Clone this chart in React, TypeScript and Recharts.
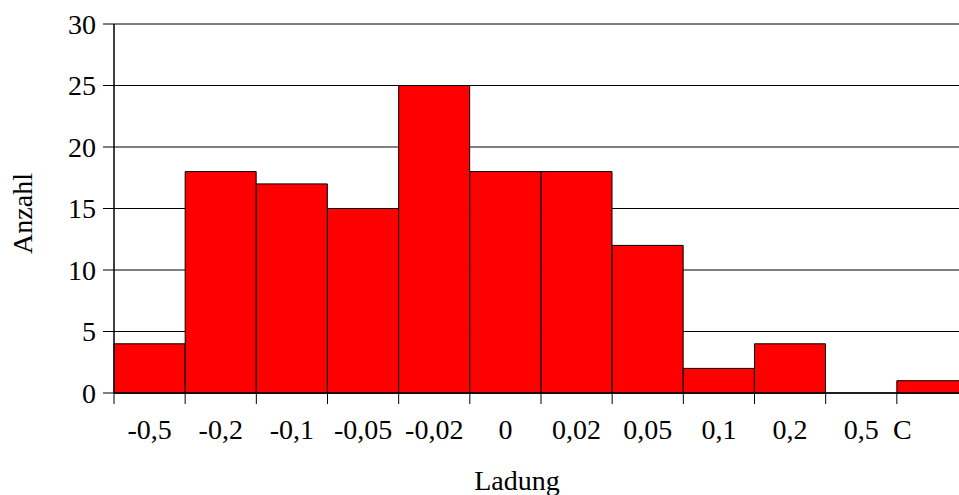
import React from 'react';
import { BarChart, Bar, XAxis, YAxis, CartesianGrid, Label } from 'recharts';

const categories = ['-0,5', '-0,2', '-0,1', '-0,05', '-0,02', '0', '0,02', '0,05', '0,1', '0,2', '0,5', 'C'];
const counts = [4, 18, 17, 15, 25, 18, 18, 12, 2, 4, 0, 1];
const yTicks = [0, 5, 10, 15, 20, 25, 30];

const data = categories.map((c, i) => ({ name: c, value: counts[i] }));

const W = 980;
const H = 495;
const M = { top: 24, right: 12, left: 34, bottom: 42 };
const Y_W = 80;
const X_H = 60;
const FONT = '"Liberation Serif", "Times New Roman", serif';
const FS = 28;
const step = (W - M.left - M.right - Y_W) / categories.length;

const XTick = (props: any) => {
  const { x, y, payload } = props;
  const bx = x - step / 2;
  const label = payload.value;
  const lx = label === 'C' ? x - 30 : x;
  return (
    <g>
      <line x1={bx} y1={y - 11} x2={bx} y2={y} stroke="#000" strokeWidth={1} />
      <text x={lx} y={y + 35} textAnchor="middle" fontSize={FS} fontFamily={FONT} fill="#000">
        {label}
      </text>
    </g>
  );
};

export default function App() {
  return (
    <div style={{ position: 'fixed', left: 0, top: 0, width: 959, height: 495, overflow: 'hidden', background: '#fff' }}>
      <BarChart width={W} height={H} data={data} margin={M} barCategoryGap={0} barGap={0}>
        <CartesianGrid vertical={false} stroke="#000" strokeWidth={1} />
        <XAxis
          dataKey="name"
          height={X_H}
          axisLine={{ stroke: '#000', strokeWidth: 1.5 }}
          tickLine={false}
          tickSize={11}
          tickMargin={0}
          interval={0}
          tick={<XTick />}
        >
          <Label
            content={(p: any) => {
              const vb = p.viewBox;
              return (
                <text x={vb.x + vb.width / 2 - 24} y={490} textAnchor="middle" fontSize={FS} fontFamily={FONT} fill="#000">
                  Ladung
                </text>
              );
            }}
          />
        </XAxis>
        <YAxis
          width={Y_W}
          domain={[0, 30]}
          ticks={yTicks}
          interval={0}
          axisLine={{ stroke: '#000', strokeWidth: 1.5 }}
          tickLine={{ stroke: '#000', strokeWidth: 1 }}
          tickSize={11}
          tickMargin={7}
          tick={{ fontSize: FS, fontFamily: FONT, fill: '#000' }}
        >
          <Label
            content={(p: any) => {
              const vb = p.viewBox;
              const cx = vb.x - 12;
              const cy = vb.y + vb.height / 2 + 5;
              return (
                <text
                  x={cx}
                  y={cy}
                  transform={`rotate(-90 ${cx} ${cy})`}
                  textAnchor="middle"
                  dominantBaseline="central"
                  fontSize={FS}
                  fontFamily={FONT}
                  fill="#000"
                >
                  Anzahl
                </text>
              );
            }}
          />
        </YAxis>
        <Bar dataKey="value" fill="#ff0000" stroke="#000" strokeWidth={1} isAnimationActive={false} />
      </BarChart>
    </div>
  );
}
